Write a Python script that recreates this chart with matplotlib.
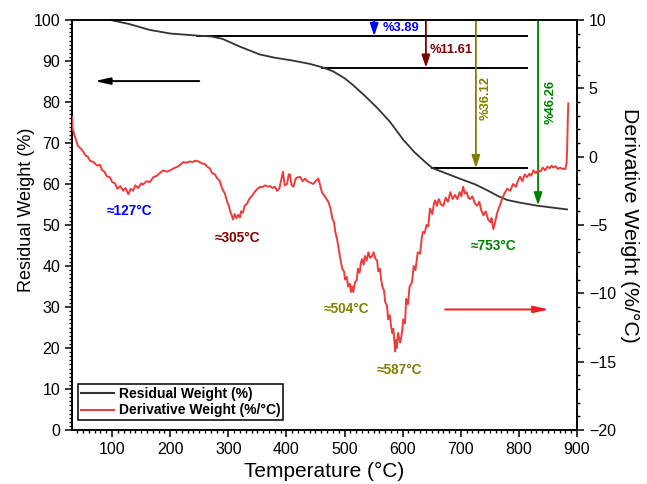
import matplotlib
matplotlib.use("Agg")
import matplotlib.pyplot as plt
from matplotlib.ticker import MultipleLocator
from matplotlib.lines import Line2D

plt.rcParams['font.family'] = ['Liberation Sans', 'DejaVu Sans']

# ---- Data ----
tga_T = [97, 130, 164, 200, 246, 270, 290, 320, 354, 380, 411, 440, 461, 480, 500,
         514, 535, 556, 578, 601, 620, 640, 651, 680, 704, 725, 745, 765, 780, 800,
         832, 860, 883]
tga_W = [100.0, 99.0, 97.6, 96.7, 96.2, 96.0, 95.4, 93.5, 91.6, 90.8, 90.1, 89.3, 88.5,
         87.5, 85.8, 84.2, 81.5, 78.6, 75.2, 70.8, 67.8, 65.2, 63.9, 62.3, 61.0, 59.9,
         58.5, 57.0, 56.1, 55.5, 54.7, 54.2, 53.8]

dtg_T = [31, 32, 35, 41, 48, 54, 58, 62, 68, 74,
         79, 83, 87, 91, 96, 100, 105, 109, 114, 119,
         123, 128, 132, 136, 140, 145, 150, 153, 159, 165,
         171, 177, 182, 188, 194, 200, 206, 212, 217, 222,
         228, 234, 238, 243, 249, 255, 260, 264, 268, 272,
         277, 281, 285, 289, 294, 298, 301, 303, 306, 308,
         311, 314, 317, 320, 322, 325, 328, 332, 336, 341,
         345, 350, 355, 358, 363, 369, 372, 376, 380, 384,
         388, 391, 394, 397, 401, 404, 406, 409, 412, 416,
         420, 424, 428, 432, 436, 441, 446, 450, 455, 458,
         461, 466, 472, 476, 479, 482, 484, 487, 489, 492,
         496, 499, 501, 504, 506, 509, 511, 513, 515, 518,
         521, 523, 526, 528, 530, 533, 535, 538, 541, 544,
         547, 550, 553, 556, 558, 561, 563, 565, 568, 570,
         573, 575, 578, 580, 582, 584, 586, 587, 589, 590,
         592, 594, 596, 599, 601, 604, 606, 609, 612, 616,
         619, 622, 626, 630, 633, 635, 638, 641, 644, 647,
         651, 654, 656, 659, 662, 666, 670, 674, 678, 682,
         686, 690, 694, 698, 701, 704, 707, 710, 713, 716,
         720, 724, 728, 732, 735, 739, 743, 747, 751, 753,
         756, 759, 763, 767, 771, 775, 780, 785, 790, 795,
         799, 802, 806, 810, 814, 818, 821, 825, 829, 833,
         837, 841, 845, 849, 853, 856, 859, 863, 867, 871,
         875, 878, 880, 882, 883, 884, 885]
dtg_R = [2.9, 2.1, 1.6, 0.8, 0.5, 0.1, 0.0, -0.3, -0.4, -0.65,
         -0.6, -1.0, -1.1, -1.45, -1.5, -1.85, -1.95, -2.35, -2.15, -2.5,
         -2.3, -2.75, -2.35, -2.5, -2.1, -2.3, -1.95, -2.05, -1.8, -1.85,
         -1.5, -1.4, -1.2, -1.0, -1.1, -1.0, -0.85, -0.75, -0.6, -0.4,
         -0.45, -0.35, -0.4, -0.3, -0.35, -0.5, -0.55, -0.75, -0.85, -1.2,
         -1.3, -1.6, -1.75, -2.3, -2.7, -3.3, -3.6, -4.0, -4.3, -4.6,
         -4.2, -4.5, -4.25, -4.45, -4.0, -4.1, -3.6, -3.45, -3.1, -2.85,
         -2.6, -2.35, -2.2, -2.25, -2.1, -2.2, -2.15, -2.3, -2.2, -2.5,
         -2.3, -1.7, -1.1, -2.1, -2.0, -1.3, -1.3, -2.1, -2.2, -1.6,
         -1.5, -1.5, -1.8, -1.6, -1.8, -1.9, -2.0, -1.8, -1.6, -2.1,
         -2.6, -2.9, -3.3, -3.8, -4.55, -4.8, -5.5, -6.0, -6.5, -7.3,
         -8.2, -8.4, -9.0, -8.8, -9.5, -9.3, -9.9, -9.5, -9.9, -9.2,
         -9.0, -8.2, -8.5, -7.8, -7.5, -7.9, -7.27, -7.6, -7.0, -7.4,
         -7.3, -7.0, -7.45, -7.6, -8.4, -8.2, -9.0, -9.5, -9.8, -10.65,
         -10.9, -11.9, -11.6, -12.4, -12.9, -12.6, -13.6, -14.25, -13.4, -14.0,
         -12.9, -13.3, -13.6, -12.8, -11.9, -12.2, -10.4, -10.8, -9.5, -9.2,
         -8.0, -8.3, -7.0, -7.1, -5.9, -5.5, -5.6, -5.0, -5.1, -3.8,
         -4.2, -3.4, -3.2, -3.6, -3.1, -3.5, -3.6, -3.0, -3.3, -2.6,
         -3.1, -2.8, -3.1, -2.6, -2.9, -2.2, -2.7, -2.6, -3.0, -3.1,
         -2.9, -3.4, -3.6, -3.3, -3.9, -4.3, -4.0, -4.6, -4.8, -4.5,
         -5.3, -4.8, -4.05, -3.6, -3.1, -2.7, -2.35, -2.5, -2.0, -2.2,
         -1.7, -1.47, -1.8, -1.3, -1.5, -1.25, -1.4, -1.0, -1.2, -1.0,
         -1.1, -0.8, -1.0, -0.73, -0.85, -0.66, -0.8, -0.7, -0.9, -0.8,
         -0.9, -0.88, -0.9, -0.5, 0.5, 2.5, 3.9]

step_levels = [96.11, 88.39, 63.88]
step_starts = [246, 461, 651]
step_end = 814

arrow_T = [551, 640, 726, 833]
arrow_end = [96.11, 88.39, 63.88, 54.8]
arrow_colors = ['#0000ff', '#800000', '#808000', '#008000']
loss_labels = ['%3.89', '%11.61', '%36.12', '%46.26']

peak_labels = ['≈127°C', '≈305°C', '≈504°C', '≈587°C', '≈753°C']
peak_T = [130, 315, 504, 594, 757]
peak_W = [53.4, 46.8, 29.4, 14.7, 44.9]
peak_colors = ['#0000ff', '#800000', '#808000', '#808000', '#008000']

red = '#ee3b3b'
black = '#333333'

fig = plt.figure(figsize=(6.47, 4.84), dpi=100)
ax = fig.add_axes([72/647, 1-430/484, 505/647, 410/484])
ax2 = ax.twinx()

ax.plot(tga_T, tga_W, color=black, lw=1.3, zorder=3)
ax2.plot(dtg_T, dtg_R, color=red, lw=1.4, zorder=3)

for lvl, st in zip(step_levels, step_starts):
    ax.plot([st, step_end], [lvl, lvl], color='black', lw=1.4, zorder=2)

for t, e, c in zip(arrow_T, arrow_end, arrow_colors):
    ax.annotate('', xy=(t, e), xytext=(t, 100),
                arrowprops=dict(arrowstyle='-|>,head_length=0.75,head_width=0.25',
                                color=c, lw=1.3, shrinkA=0, shrinkB=0))

ax.text(565, 98.0, loss_labels[0], color=arrow_colors[0], fontsize=9.3,
        fontweight='bold', ha='left', va='center')
ax.text(646, 92.6, loss_labels[1], color=arrow_colors[1], fontsize=9.3,
        fontweight='bold', ha='left', va='center')
ax.text(742, 80.9, loss_labels[2], color=arrow_colors[2], fontsize=9.3,
        fontweight='bold', ha='center', va='center', rotation=90)
ax.text(854, 80.1, loss_labels[3], color=arrow_colors[3], fontsize=9.3,
        fontweight='bold', ha='center', va='center', rotation=90)

for lab, t, w, c in zip(peak_labels, peak_T, peak_W, peak_colors):
    ax.text(t, w, lab, color=c, fontsize=9.8, fontweight='bold', ha='center', va='center')

# direction arrows
ax.annotate('', xy=(70, 85.1), xytext=(250, 85.1),
            arrowprops=dict(arrowstyle='-|>,head_length=0.9,head_width=0.2',
                            color='black', lw=1.4, shrinkA=0, shrinkB=0))
ax.annotate('', xy=(852, 29.4), xytext=(673, 29.4),
            arrowprops=dict(arrowstyle='-|>,head_length=0.9,head_width=0.2',
                            color='#ee1c1c', lw=1.4, shrinkA=0, shrinkB=0))

ax.set_xlim(31, 900)
ax.set_ylim(0, 100)
ax2.set_ylim(-20, 10)

ax.xaxis.set_major_locator(MultipleLocator(100))
ax.xaxis.set_minor_locator(MultipleLocator(10))
ax.yaxis.set_major_locator(MultipleLocator(10))
ax.yaxis.set_minor_locator(MultipleLocator(1))
ax2.yaxis.set_major_locator(MultipleLocator(5))
ax2.yaxis.set_minor_locator(MultipleLocator(1))

for a in (ax, ax2):
    a.tick_params(which='major', length=5, width=1.1, labelsize=11.5, direction='out')
    a.tick_params(which='minor', length=2.5, width=1.0, direction='out')
    for s in a.spines.values():
        s.set_linewidth(1.2)
ax.tick_params(top=False, right=False)

ax.set_xlabel('Temperature (°C)', fontsize=15, labelpad=4)
ax.set_ylabel('Residual Weight (%)', fontsize=13)
ax.yaxis.set_label_coords(-0.074, 0.537)
ax2.set_ylabel('Derivative Weight (%/°C)', fontsize=15.3, rotation=270, labelpad=17)

handles = [Line2D([], [], color=black, lw=1.5), Line2D([], [], color=red, lw=1.5)]
leg = ax2.legend(handles, ['Residual Weight (%)', 'Derivative Weight (%/°C)'],
                 loc='lower left', bbox_to_anchor=(0.012, 0.024), borderaxespad=0,
                 fancybox=False, framealpha=1, edgecolor='black',
                 prop={'weight': 'bold', 'size': 10}, handlelength=2.4,
                 borderpad=0.2, labelspacing=0.2, handletextpad=0.35)
leg.get_frame().set_linewidth(1.1)

fig.savefig('out.png', dpi=100)
